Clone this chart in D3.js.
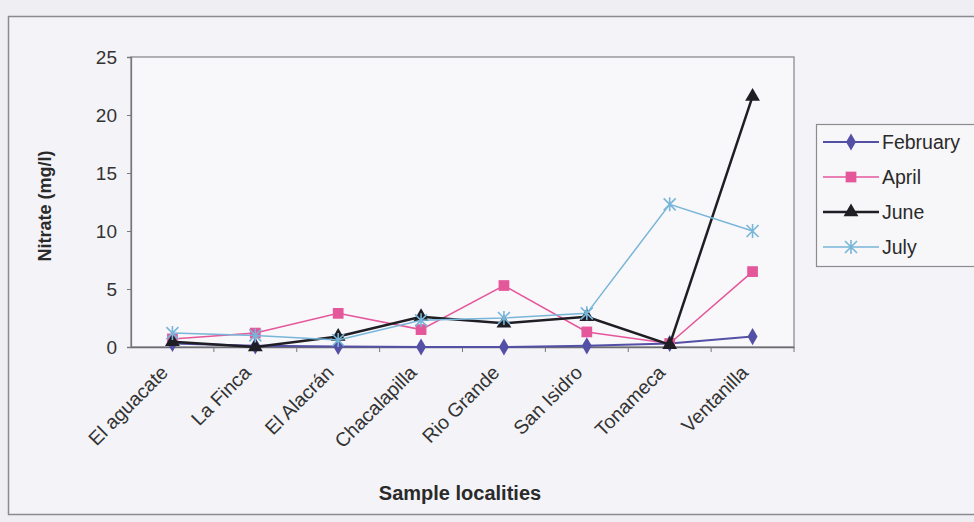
<!DOCTYPE html>
<html lang="en">
  <head>
    <meta charset="UTF-8" />
    <title>Nitrate</title>
    <script src="https://cdn.jsdelivr.net/npm/d3@7.6.1/dist/d3.min.js"></script>
    <style>
      body { margin: 0; background: #efeef3; }
      svg { display: block; font-family: 'Liberation Sans', Arial, sans-serif; }
    </style>
  </head>
  <body>
    <div id="box"></div>
    <script>
      const width = 974;
      const height = 522;

      // data
      const localities = ['El aguacate', 'La Finca', 'El Alacrán', 'Chacalapilla', 'Rio Grande', 'San Isidro', 'Tonameca', 'Ventanilla'];
      const february = [0.3, 0.1, 0.05, 0, 0, 0.1, 0.3, 0.9];
      const april = [0.7, 1.2, 2.9, 1.5, 5.3, 1.3, 0.3, 6.5];
      const june = [0.45, 0, 0.9, 2.6, 2.05, 2.6, 0.2, 21.6];
      const july = [1.2, 1.0, 0.6, 2.3, 2.5, 2.9, 12.3, 10.0];
      const yTicks = [0, 5, 10, 15, 20, 25];

      const series = [
        {name: 'February', values: february, color: '#5450a6', lw: 2, symbol: d3.symbolDiamond, size: 85},
        {name: 'April', values: april, color: '#e4579b', lw: 1.5, symbol: d3.symbolSquare, size: 115},
        {name: 'June', values: june, color: '#1e1e24', lw: 2.5, symbol: d3.symbolTriangle, size: 95},
        {name: 'July', values: july, color: '#78b6d9', lw: 1.5, symbol: d3.symbolCross, size: 0}
      ];

      const margin = {left: 131, right: 180, top: 57, bottom: 175};

      const svg = d3.select('#box').append('svg').attr('width', width).attr('height', height);

      // outer chart frame
      svg.append('rect')
        .attr('x', 8.5).attr('y', 16.5)
        .attr('width', 1000).attr('height', 498)
        .attr('fill', '#f4f3f7').attr('stroke', '#8a8a90').attr('stroke-width', 1.5);

      const xScale = d3.scaleBand()
        .domain(localities)
        .range([margin.left, width - margin.right]);
      const yScale = d3.scaleLinear()
        .domain([0, 25])
        .range([height - margin.bottom, margin.top]);

      // plot area
      svg.append('rect')
        .attr('x', margin.left).attr('y', margin.top)
        .attr('width', xScale.range()[1] - margin.left)
        .attr('height', yScale(0) - margin.top)
        .attr('fill', '#f8f7fa').attr('stroke', '#8c8c90').attr('stroke-width', 1.3);

      // y axis
      const yAxis = d3.axisLeft(yScale).tickValues(yTicks).tickSize(4).tickPadding(10);
      const gy = svg.append('g')
        .attr('transform', `translate(${margin.left},0)`)
        .call(yAxis);
      gy.select('.domain').attr('stroke', '#77777c').attr('stroke-width', 1.3);
      gy.selectAll('.tick line').attr('stroke', '#77777c');
      gy.selectAll('.tick text')
        .attr('font-size', 19).attr('fill', '#333')
        .attr('font-family', "'Liberation Sans', Arial, sans-serif");

      // x axis (ticks between categories)
      const xAxis = d3.axisBottom(xScale).tickSize(0);
      const gx = svg.append('g')
        .attr('transform', `translate(0,${yScale(0)})`)
        .call(xAxis);
      gx.select('.domain').attr('stroke', '#6c6c72').attr('stroke-width', 1.5);
      gx.selectAll('.tick text')
        .attr('font-size', 19.5).attr('fill', '#333')
        .attr('font-family', "'Liberation Sans', Arial, sans-serif")
        .attr('text-anchor', 'end')
        .attr('x', 0).attr('y', 0).attr('dy', '0.35em')
        .attr('transform', 'translate(-8,22) rotate(-45)');
      gx.selectAll('.sep')
        .data(localities)
        .enter()
        .append('line')
        .attr('class', 'sep')
        .attr('x1', d => xScale(d) + xScale.bandwidth())
        .attr('x2', d => xScale(d) + xScale.bandwidth())
        .attr('y1', 0).attr('y2', 5)
        .attr('stroke', '#77777c');

      // axis titles
      svg.append('text')
        .attr('transform', `translate(51,${(margin.top + yScale(0)) / 2 + 4}) rotate(-90)`)
        .attr('text-anchor', 'middle')
        .attr('font-size', 18).attr('font-weight', 'bold').attr('fill', '#2a2a2a')
        .text('Nitrate (mg/l)');
      svg.append('text')
        .attr('x', 460).attr('y', 500)
        .attr('text-anchor', 'middle')
        .attr('font-size', 20).attr('font-weight', 'bold').attr('fill', '#2a2a2a')
        .text('Sample localities');

      const cx = d => xScale(d) + xScale.bandwidth() / 2;
      const line = d3.line().x((d, i) => cx(localities[i])).y(d => yScale(d));

      function drawMarker(g, s, x, y) {
        if (s.name === 'July') {
          const r = 6;
          g.append('path')
            .attr('d', `M${x - r},${y - r}L${x + r},${y + r}M${x - r},${y + r}L${x + r},${y - r}M${x},${y - r - 1}L${x},${y + r + 1}`)
            .attr('stroke', s.color).attr('stroke-width', 1.6).attr('fill', 'none');
        } else {
          g.append('path')
            .attr('d', d3.symbol(s.symbol, s.size)())
            .attr('transform', `translate(${x},${y})`)
            .attr('fill', s.color);
        }
      }

      series.forEach(s => {
        const g = svg.append('g');
        g.append('path')
          .datum(s.values)
          .attr('d', line)
          .attr('fill', 'none')
          .attr('stroke', s.color)
          .attr('stroke-width', s.lw);
        s.values.forEach((v, i) => drawMarker(g, s, cx(localities[i]), yScale(v)));
      });

      // legend
      const lg = svg.append('g');
      lg.append('rect')
        .attr('x', 816.5).attr('y', 124.5)
        .attr('width', 170).attr('height', 142)
        .attr('fill', '#f7f6f9').attr('stroke', '#8c8c90').attr('stroke-width', 1.2);
      series.forEach((s, i) => {
        const y = 142 + i * 35;
        lg.append('line')
          .attr('x1', 823).attr('x2', 879).attr('y1', y).attr('y2', y)
          .attr('stroke', s.color).attr('stroke-width', s.lw);
        drawMarker(lg, s, 851, y);
        lg.append('text')
          .attr('x', 882).attr('y', y + 7)
          .attr('font-size', 19.5).attr('fill', '#2a2a2a')
          .text(s.name);
      });
    </script>
  </body>
</html>
